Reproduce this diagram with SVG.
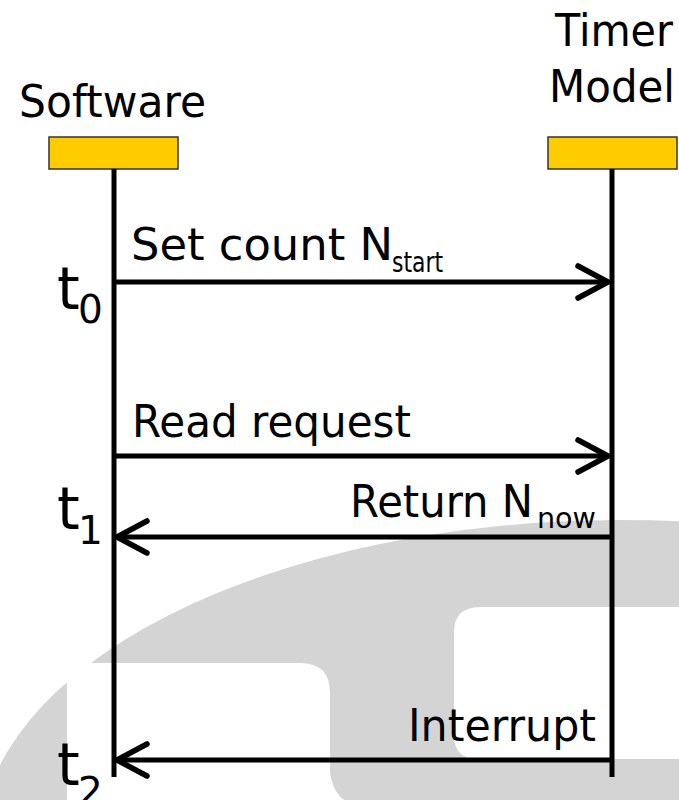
<svg xmlns="http://www.w3.org/2000/svg" width="679" height="800" viewBox="0 0 679 800">
  <style>
    .lbl { font-family: "DejaVu Sans", "Liberation Sans", sans-serif; font-size: 45px; fill: #000; }
    .sub { font-family: "DejaVu Sans", "Liberation Sans", sans-serif; font-size: 28px; fill: #000; }
    .tvar { font-family: "DejaVu Sans", "Liberation Sans", sans-serif; font-size: 58px; fill: #000; }
    .tsub { font-family: "DejaVu Sans", "Liberation Sans", sans-serif; font-size: 39px; fill: #000; }
    .head { fill: #ffcc00; stroke: #333; stroke-width: 1.5; }
    .life { stroke: #000; stroke-width: 5; fill: none; }
    .msg { stroke: #000; stroke-width: 5; fill: none; marker-end: url(#chevron); }
    .wm { fill: #d4d4d4; }
    .cut { fill: #fff; }
  </style>
  <defs>
    <marker id="chevron" markerUnits="userSpaceOnUse" viewBox="-40 -22 46 44" markerWidth="46" markerHeight="44" refX="0" refY="0" orient="auto" overflow="visible">
      <path d="M -30 -16 L 0 0 L -30 16" fill="none" stroke="#000" stroke-width="5.5" stroke-linecap="round" stroke-linejoin="round"/>
    </marker>
  </defs>

  <rect width="679" height="800" fill="#fff"/>

  <!-- background logo mark -->
  <g id="watermark">
    <ellipse class="wm" cx="622" cy="846" rx="642" ry="326"/>
    <path class="cut" d="M 67 640 L 67 663 H 300 Q 330 663 330 693 V 772 Q 333 795 348 802 L 67 802 Z"/>
    <path class="cut" d="M 690 607 H 480 Q 454 607 454 633 V 735 Q 454 759 478 759 H 690 Z"/>
  </g>

  <!-- participants -->
  <g id="software">
    <text class="lbl" x="19" y="117" textLength="187" lengthAdjust="spacingAndGlyphs">Software</text>
    <rect class="head" x="49" y="137" width="129" height="32"/>
  </g>
  <g id="timer-model">
    <text class="lbl" x="555" y="46" textLength="118" lengthAdjust="spacingAndGlyphs">Timer</text>
    <text class="lbl" x="549" y="102" textLength="126" lengthAdjust="spacingAndGlyphs">Model</text>
    <rect class="head" x="548" y="137" width="129" height="32"/>
  </g>

  <!-- lifelines and messages -->
  <g id="connectors">
    <line class="life" x1="114" y1="169" x2="114" y2="777"/>
    <line class="life" x1="612" y1="169" x2="612" y2="777"/>
    <line class="msg" x1="114" y1="282" x2="608" y2="282"/>
    <line class="msg" x1="114" y1="456" x2="608" y2="456"/>
    <line class="msg" x1="612" y1="537" x2="117" y2="537"/>
    <line class="msg" x1="612" y1="760" x2="117" y2="760"/>
  </g>

  <!-- message labels -->
  <g id="label-set-count">
    <text class="lbl" x="131" y="260" textLength="262" lengthAdjust="spacingAndGlyphs">Set count N</text>
    <text class="sub" x="392" y="272" textLength="51" lengthAdjust="spacingAndGlyphs">start</text>
  </g>
  <g id="label-read-request">
    <text class="lbl" x="132" y="437" textLength="279" lengthAdjust="spacingAndGlyphs">Read request</text>
  </g>
  <g id="label-return">
    <text class="lbl" x="350" y="517" textLength="183" lengthAdjust="spacingAndGlyphs">Return N</text>
    <text class="sub" x="537" y="528" textLength="59" lengthAdjust="spacingAndGlyphs">now</text>
  </g>
  <g id="label-interrupt">
    <text class="lbl" x="408" y="741" textLength="188" lengthAdjust="spacingAndGlyphs">Interrupt</text>
  </g>

  <!-- time marks -->
  <g id="t0">
    <text class="tvar" x="57" y="309">t</text>
    <text class="tsub" x="78" y="323">0</text>
  </g>
  <g id="t1">
    <text class="tvar" x="57" y="529">t</text>
    <text class="tsub" x="78" y="544">1</text>
  </g>
  <g id="t2">
    <text class="tvar" x="57" y="785">t</text>
    <text class="tsub" x="78" y="805">2</text>
  </g>
</svg>
